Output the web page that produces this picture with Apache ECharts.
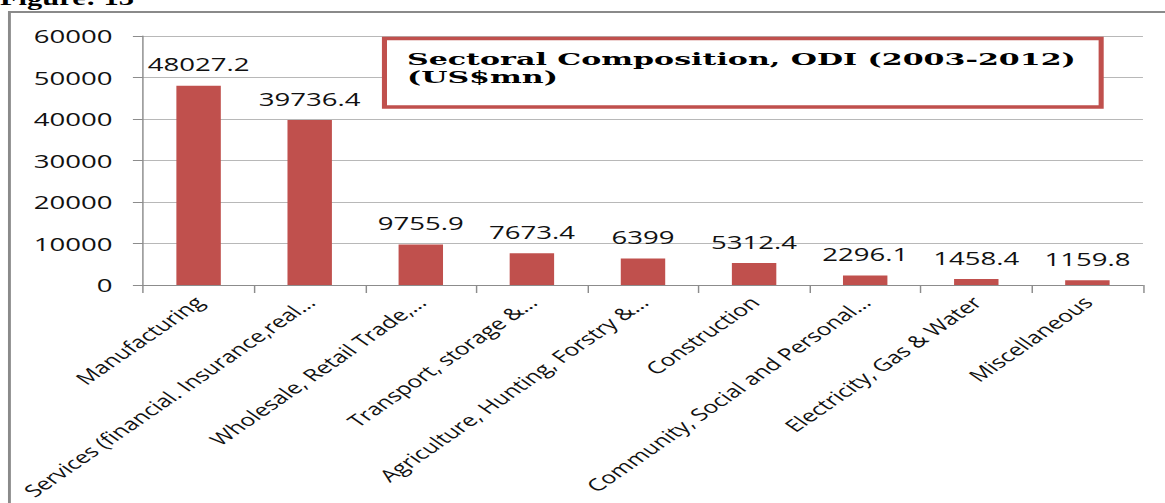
<!DOCTYPE html>
<html>
<head>
<meta charset="utf-8">
<script src="https://cdn.jsdelivr.net/npm/echarts@6/dist/echarts.min.js"></script>
<style>
html,body{margin:0;padding:0;background:#fff;overflow:hidden;width:1165px;height:503px;}
#chart{width:803px;height:503px;transform:scaleX(1.4508);transform-origin:0 0;}
</style>
</head>
<body>
<div id="chart"></div>
<script>
const categories = [
  "Manufacturing",
  "Services (financial. Insurance,real…",
  "Wholesale, Retail Trade,…",
  "Transport, storage &…",
  "Agriculture, Hunting, Forstry &…",
  "Construction",
  "Community, Social and Personal…",
  "Electricity, Gas & Water",
  "Miscellaneous"
];
const odiValues = [48027.2, 39736.4, 9755.9, 7673.4, 6399, 5312.4, 2296.1, 1458.4, 1159.8];
const yTicks = { min: 0, max: 60000, interval: 10000 };
const titleLines = ["Sectoral Composition, ODI (2003-2012)", "(US$mn)"];
const figureLabel = "Figure: 13";

const chart = echarts.init(document.getElementById('chart'), null, { renderer: 'svg' });
chart.setOption({
  animation: false,
  backgroundColor: '#fff',
  grid: { left: 98.6, right: 15.2, top: 36, bottom: 218, containLabel: false, outerBoundsMode: 'none' },
  xAxis: {
    type: 'category',
    data: categories,
    axisLine: { lineStyle: { color: '#8c8c8c', width: 1 } },
    axisTick: { show: true, length: 8, lineStyle: { color: '#8c8c8c' } },
    axisLabel: {
      interval: 0, rotate: 45, margin: 14,
      fontFamily: 'Open Sans', fontSize: 17, color: '#111'
    }
  },
  yAxis: {
    type: 'value',
    min: yTicks.min, max: yTicks.max, interval: yTicks.interval,
    axisLine: { show: true, lineStyle: { color: '#8c8c8c' } },
    axisTick: { show: true, length: 7, lineStyle: { color: '#8c8c8c' } },
    splitLine: { lineStyle: { color: '#b8b8b8' } },
    axisLabel: { margin: 21, fontFamily: 'Open Sans', fontSize: 19, color: '#111',
      formatter: v => String(v) }
  },
  series: [{
    type: 'bar',
    data: odiValues,
    barWidth: '40%',
    itemStyle: { color: '#C0504D' },
    label: {
      show: true, position: 'top', distance: 12,
      fontFamily: 'Open Sans', fontSize: 19, color: '#111'
    }
  }],
  graphic: [
    { type: 'rect', shape: { x: 6.5, y: 12, width: 900, height: 600 },
      style: { fill: 'none', stroke: '#8a8a8a', lineWidth: 2 }, z: 0 },
    { type: 'text', x: 0, y: 9,
      style: { text: figureLabel, font: 'bold 21px "Liberation Serif"', fill: '#000', textVerticalAlign: 'bottom' } },
    { type: 'rect', shape: { x: 265, y: 38.5, width: 494, height: 68.5 },
      style: { fill: '#fff', stroke: '#C0504D', lineWidth: 3.5 }, z: 10 },
    { type: 'text', x: 280.5, y: 50.5, scaleX: 1.22, z: 11,
      style: { text: titleLines[0], font: 'bold 17px "DejaVu Serif"', fill: '#000', textVerticalAlign: 'top' } },
    { type: 'text', x: 280.5, y: 68.5, scaleX: 1.22, z: 11,
      style: { text: titleLines[1], font: 'bold 17px "DejaVu Serif"', fill: '#000', textVerticalAlign: 'top' } }
  ]
});
</script>
</body>
</html>
